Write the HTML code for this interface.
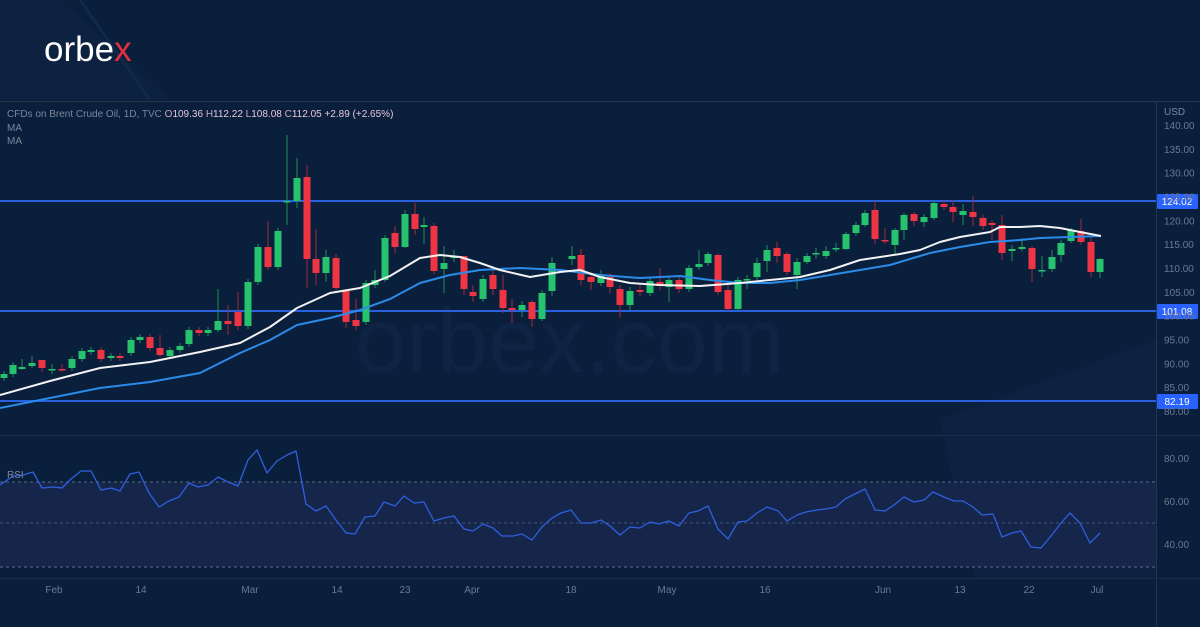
<!DOCTYPE html>
<html><head><meta charset="utf-8"><style>
html,body{margin:0;padding:0;background:#0a1f3c;}
svg{display:block;font-family:"Liberation Sans",sans-serif;}
</style></head><body>
<svg id="s" width="1200" height="627" viewBox="0 0 1200 627" xmlns="http://www.w3.org/2000/svg">
<rect width="1200" height="627" fill="#0a1f3c"/>
<polygon points="0,0 60,0 170,100 0,100" fill="#0e2443" opacity="0.6"/>
<line x1="80" y1="0" x2="150" y2="100" stroke="#12294a" stroke-width="3"/>
<polygon points="940,420 1156,340 1156,578 975,578" fill="#0f2546" opacity="0.6"/>
<text x="44" y="61" font-size="35" fill="#ffffff" font-family="Liberation Sans,sans-serif" letter-spacing="0">orbe<tspan fill="#e5303f">x</tspan></text>
<text x="355" y="372" font-size="92" fill="#0f2444">orbex.com</text>
<line x1="0" y1="101.5" x2="1200" y2="101.5" stroke="#27344a"/>
<line x1="1156.5" y1="101" x2="1156.5" y2="627" stroke="#27344a"/>
<line x1="0" y1="435.5" x2="1200" y2="435.5" stroke="#1d2d45"/>
<line x1="0" y1="578.5" x2="1200" y2="578.5" stroke="#1d2d45"/>
<rect x="0" y="482" width="1156" height="85" fill="#15264a"/>
<line x1="0" y1="482" x2="1156" y2="482" stroke="#5c6a86" stroke-dasharray="3,3"/>
<line x1="0" y1="523" x2="1156" y2="523" stroke="#44537a" stroke-dasharray="3,3"/>
<line x1="0" y1="567" x2="1156" y2="567" stroke="#5c6a86" stroke-dasharray="3,3"/>
<g id="c"></g>
<g font-size="10" fill="#7b8699">
<text x="7" y="117">CFDs on Brent Crude Oil, 1D, TVC <tspan fill="#c9a9c4">O</tspan><tspan fill="#e8c6e0">109.36</tspan> <tspan fill="#c9a9c4">H</tspan><tspan fill="#e8c6e0">112.22</tspan> <tspan fill="#c9a9c4">L</tspan><tspan fill="#e8c6e0">108.08</tspan> <tspan fill="#c9a9c4">C</tspan><tspan fill="#e8c6e0">112.05</tspan> <tspan fill="#e8c6e0">+2.89 (+2.65%)</tspan></text>
<text x="7" y="131">MA</text>
<text x="7" y="144">MA</text>
<text x="7" y="478">RSI</text>
<text x="1164" y="115">USD</text>
</g>
<g id="ax" font-size="10" fill="#6d7890"></g>
</svg>
<script>
var ns="http://www.w3.org/2000/svg",c=document.getElementById('c'),ax=document.getElementById('ax');
function el(t,a,p){var e=document.createElementNS(ns,t);for(var k in a)e.setAttribute(k,a[k]);(p||c).appendChild(e);return e;}
function P(p){return 125+(140-p)*4.767;}
for(var p=140;p>=80;p-=5){var t=el('text',{x:1164,y:P(p)+4},ax);t.textContent=p.toFixed(2);}
[[80,462],[60,505],[40,548]].forEach(function(a){var t=el('text',{x:1164,y:a[1]},ax);t.textContent=a[0].toFixed(2);});
[["Feb",54],["14",141],["Mar",250],["14",337],["23",405],["Apr",472],["18",571],["May",667],["16",765],["Jun",883],["13",960],["22",1029],["Jul",1097]].forEach(function(a){var t=el('text',{x:a[1],y:593,'text-anchor':'middle'},ax);t.textContent=a[0];});
[[124.02,201],[101.08,311],[82.19,401]].forEach(function(l){
 el('line',{x1:0,y1:l[1],x2:1156,y2:l[1],stroke:'#2860e0','stroke-width':2});
 el('rect',{x:1157,y:l[1]-7,width:41,height:15,fill:'#2962ff',rx:1});
 var t=el('text',{x:1177,y:l[1]+4,'text-anchor':'middle','font-size':10,fill:'#fff'});t.textContent=l[0].toFixed(2);
});
var A=[[4,254,258,'g'],[13,245,254,'g'],[22,247,249,'g',239,250],[32,243,246,'g',236,248],[42,240,248,'r',240,252],[52,249,250,'g',244,254],[62,249,250,'r',244,252],[72,239,248,'g'],[82,231,239,'g'],[91,230,232,'g'],[101,230,239,'r'],[111,236,238,'g'],[120,236,238,'r'],[131,220,233,'g'],[140,217,220,'g'],[150,217,228,'r'],[160,228,235,'r',215,237],[170,230,236,'g'],[180,226,230,'g'],[189,210,224,'g'],[199,210,213,'r'],[208,210,213,'g'],[218,201,210,'g',169,212],[228,201,204,'r',185,215],[238,192,206,'r',172,210],[248,162,206,'g'],[258,127,162,'g'],[268,127,147,'r',101,150],[278,111,147,'g',108,150],[287,81,82,'g',15,105],[297,58,81,'g',38,88],[307,57,139,'r',45,168],[316,139,153,'r',109,165],[326,137,153,'g',130,162],[336,138,168,'r',134,170],[346,171,202,'r',171,208],[356,200,206,'r',179,210],[366,163,202,'g',160,205],[375,160,165,'g',150,168],[385,118,160,'g',115,162]];
var B=A.map(function(a){var r=[a[0],a[1]+120,a[2]+120,a[3]];if(a.length>4){r.push(a[4]+120,a[5]+120);}return r;});
B=B.concat([[395,233,247,'r',226,253],[405,214,247,'g',210,248],[415,214,229,'r',203,235],[424,225,227,'g',217,244],[434,226,271,'r'],[444,263,269,'g',246,293],[454,256,258,'g',250,262],[464,256,289,'r',256,295],[473,292,296,'r',285,302],[483,279,299,'g',275,302],[493,275,289,'r',270,295],[503,290,308,'r',275,313],[512,308,310,'r',299,323],[522,305,310,'g',301,317],[532,302,319,'r',300,327],[542,293,319,'g',290,321],[552,263,291,'g',257,296],[572,256,259,'g',246,265],[581,255,280,'r',249,285],[591,277,282,'r',272,290],[601,275,283,'g',270,286],[610,277,287,'r',273,293],[620,289,305,'r',285,318],[630,291,305,'g',287,310],[640,290,292,'r',285,296],[650,281,293,'g',277,296],[660,282,286,'r',268,290],[669,280,287,'g',276,302],[679,280,289,'r',277,293],[689,268,289,'g',265,292],[699,264,267,'g',250,270],[708,254,263,'g',252,266],[718,255,292,'r',253,295],[728,290,309,'r',283,311],[738,280,309,'g',277,311],[747,279,280,'g',275,289],[757,263,277,'g',258,282],[767,250,261,'g',245,272],[777,248,256,'r',242,263],[787,254,272,'r',252,275],[797,262,275,'g',258,289],[807,256,262,'g',253,264],[816,253,254,'g',248,259],[826,251,256,'g',246,259],[836,248,249,'g',243,252],[846,234,249,'g',232,250],[856,225,233,'g',222,236],[865,213,225,'g',210,227],[875,210,239,'r',201,244],[885,240,241,'r',228,244],[895,230,245,'g',228,254],[904,215,230,'g',213,240],[914,214,221,'r',212,226],[924,217,222,'g',214,227],[934,203,218,'g',201,220],[944,204,207,'r',200,210],[953,207,212,'r',200,222],[963,211,215,'g',204,225],[973,212,217,'r',196,226],[983,218,226,'r',215,230],[992,223,225,'r',220,240],[1002,225,253,'r',215,260],[1012,249,251,'g',245,261],[1022,247,249,'g',238,251],[1032,248,269,'r',246,282],[1042,270,271,'g',256,277],[1052,257,269,'g',250,272],[1061,243,255,'g',240,262],[1071,230,241,'g',228,243],[1081,231,242,'r',219,245],[1091,242,272,'r',237,277],[1100,259,272,'g',258,278]]);
B.forEach(function(a){var col=a[3]=='g'?'#26c26e':'#ef3543';var wt=a.length>4?a[4]:a[1]-3,wb=a.length>4?a[5]:a[2]+3;
 el('line',{x1:a[0],y1:wt,x2:a[0],y2:wb,stroke:a[3]=='g'?'#1f8e55':'#a52a38','stroke-width':1});
 el('rect',{x:a[0]-3.5,y:a[1],width:7,height:Math.max(1.5,a[2]-a[1]),fill:col});});
function pl(pts,col,w,par){el('polyline',{points:pts.map(function(p){return p.join(',')}).join(' '),fill:'none',stroke:col,'stroke-width':w,'stroke-linejoin':'round'},par);}
pl([[0,408],[50,398],[100,388],[150,382],[200,373],[240,353],[270,340],[297,325],[330,318],[360,310],[390,299],[420,283],[450,275],[480,270],[520,268],[560,270],[600,275],[640,278],[680,276],[710,280],[740,283],[770,283],[800,280],[830,275],[890,265],[930,253],[960,247],[990,242],[1020,240],[1040,238],[1070,237],[1101,236]],'#2a8be8',2);
pl([[0,395],[50,381],[100,368],[150,362],[200,352],[240,343],[270,327],[297,308],[330,293],[360,288],[390,276],[420,258],[440,255],[460,257],[480,263],[500,270],[530,277],[560,272],[580,270],[600,277],[630,283],[660,285],[700,286],[740,283],[770,280],[800,277],[830,270],[860,260],[900,254],[920,250],[940,242],[960,237],[990,232],[1000,227],[1020,227],[1040,226],[1060,228],[1080,232],[1101,236]],'#f2f2f2',2);
pl([[0,485],[13,476],[23,475],[33,472],[42,488],[53,487],[62,488],[71,479],[81,471],[91,471],[101,490],[111,488],[120,491],[130,474],[139,472],[149,493],[159,507],[169,501],[179,497],[189,483],[198,487],[208,485],[218,477],[228,482],[238,486],[248,460],[257,450],[267,473],[277,461],[287,455],[296,451],[306,504],[316,511],[326,506],[336,520],[346,533],[355,534],[365,517],[375,516],[384,502],[395,506],[404,496],[414,503],[424,502],[434,521],[444,518],[454,516],[464,529],[473,531],[483,524],[493,528],[502,536],[513,536],[522,534],[532,540],[542,527],[552,518],[561,513],[571,510],[581,523],[591,523],[601,520],[610,526],[620,535],[630,527],[640,528],[650,522],[659,524],[669,521],[679,526],[689,513],[698,511],[708,506],[718,529],[728,539],[738,522],[747,521],[757,513],[767,507],[778,511],[787,521],[797,515],[806,512],[817,510],[826,509],[836,507],[845,499],[855,494],[865,489],[875,510],[885,511],[894,505],[904,497],[914,502],[924,500],[933,492],[944,497],[954,501],[963,501],[973,507],[982,515],[993,514],[1002,537],[1012,533],[1021,531],[1031,547],[1041,548],[1051,536],[1061,523],[1070,513],[1080,523],[1090,543],[1100,533]],'#2f5fe0',1.3);
</script>
</body></html>
